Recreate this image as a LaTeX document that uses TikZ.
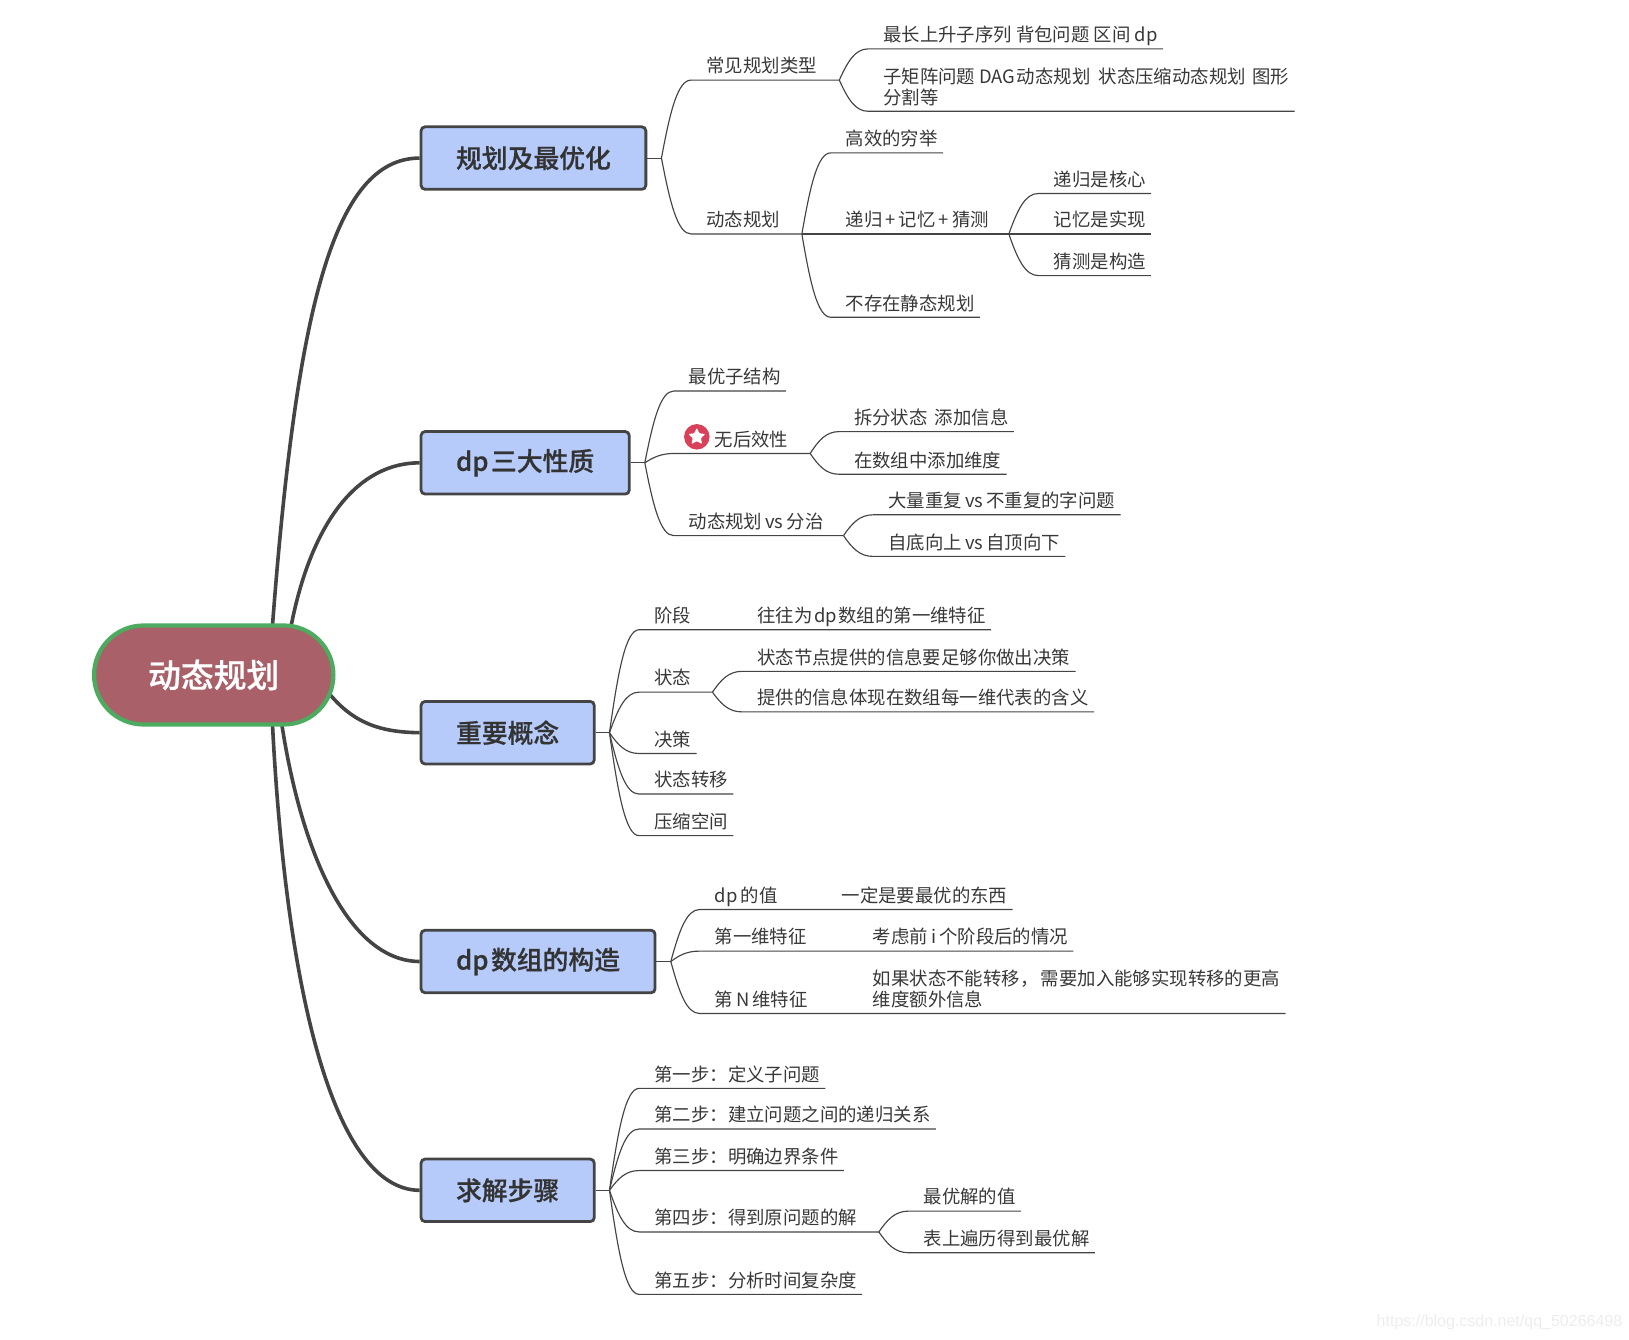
\documentclass[tikz,border=0pt]{standalone}
\usepackage{fontspec}
\setmainfont{Noto Sans CJK SC}[BoldFont={Noto Sans CJK SC Medium},BoldFeatures={FakeBold=0.6}]
\newfontfamily\markfont{Liberation Sans}
\usetikzlibrary{calc,backgrounds,shapes.misc,shapes.geometric}
\definecolor{boxblue}{HTML}{B6CBFA}
\definecolor{rootred}{HTML}{A96068}
\definecolor{rootgreen}{HTML}{4CAB5E}
\definecolor{starred}{HTML}{D9415A}
\definecolor{inkgray}{HTML}{444444}
\begin{document}
\begin{tikzpicture}[x=1.04pt,y=-1.04pt,
  rootnode/.style={rounded rectangle,draw=rootgreen,fill=rootred,line width=4.2pt,minimum width=246pt,minimum height=99pt,text=white,font=\fontsize{32.8}{36}\selectfont\bfseries},
  mainbox/.style={anchor=west,rectangle,rounded corners=4pt,draw=inkgray,fill=boxblue,line width=2.8pt,inner xsep=35pt,minimum height=62.5pt,text=black!80,font=\fontsize{25.8}{30}\selectfont\bfseries},
  topic/.style={anchor=south west,xshift=-1pt,inner xsep=5.2pt,inner ysep=0pt,text height=14pt,text depth=7pt,align=left,text=black!78,font=\fontsize{18.4}{20.8}\selectfont},
  branch/.style={draw=inkgray,line width=1.15pt},
  trunk/.style={draw=inkgray,line width=3.6pt},
  forkto/.style={to path={.. controls ($(\tikztostart)!.22!(\tikztotarget)+.38*(\tikztostart|-\tikztotarget)-.38*(\tikztostart)$) and ($(\tikztotarget)!.59!(\tikztotarget-|\tikztostart)$) .. ($(\tikztotarget)!.25!(\tikztotarget-|\tikztostart)$) -- (\tikztotarget)}}]

\useasboundingbox (0,0) rectangle (1566.3,1287.5);

\node[rootnode] (root) at (205.5,649) {动态规划};
\node[mainbox] (plan) at (403.5,152) {规划及最优化};
\node[mainbox] (props) at (403.5,445) {dp\hspace{2.5pt}三大性质};
\node[mainbox] (ideas) at (403.5,704.5) {重要概念};
\node[mainbox] (table) at (403.5,924.5) {dp\hspace{2.5pt}数组的构造};
\node[mainbox] (steps) at (403.5,1144.5) {求解步骤};

\begin{pgfonlayer}{background}
\draw[trunk] ($(root.north)+(56.5,2)$) .. controls (285,300) and (320,152) .. (plan.west);
\draw[trunk] ($(root.north)+(74.5,2)$) .. controls (300,500) and (345,445) .. (props.west);
\draw[trunk] ($(root.east)+(-6,18)$) .. controls (340,695) and (365,704) .. (ideas.west);
\draw[trunk] ($(root.south)+(65.5,-2)$) .. controls (290,820) and (335,924) .. (table.west);
\draw[trunk] ($(root.south)+(56.5,-2)$) .. controls (275,950) and (320,1144) .. (steps.west);
\end{pgfonlayer}

% first branch
\coordinate (fplan) at (636,152);
\coordinate (fkinds) at (807,77);
\coordinate (fdp) at (771,225);
\coordinate (fguess) at (970,225);
\node[topic] (kinds) at (675,77) {常见规划类型};
\node[topic] (lis) at (845,47) {最长上升子序列 背包问题 区间 dp};
\node[topic] (matrix) at (845,107) {子矩阵问题 DAG\hspace{1.5pt}动态规划\hspace{4pt} 状态压缩动态规划\hspace{2.5pt} 图形\\分割等};
\node[topic] (dp) at (675,225) {动态规划};
\node[topic] (brute) at (809,147) {高效的穷举};
\node[topic] (guess) at (809,225) {递归\,+\,记忆\,+\,猜测};
\node[topic] (core) at (1009,186) {递归是核心};
\node[topic] (memo) at (1009,225) {记忆是实现};
\node[topic] (build) at (1009,265) {猜测是构造};
\node[topic] (static) at (809,305) {不存在静态规划};

\draw[branch] (plan.east) -- (fplan);
\draw[branch] (fplan) to[forkto] (kinds.south west) -- (fkinds);
\draw[branch] (fplan) to[forkto] (dp.south west) -- (fdp);
\draw[branch] (fkinds) to[forkto] (lis.south west) -- (lis.south east);
\draw[branch] (fkinds) to[forkto] (matrix.south west) -- (matrix.south east);
\draw[branch] (fdp) to[forkto] (brute.south west) -- (brute.south east);
\draw[branch] (fdp) -- (fguess);
\draw[branch] (fdp) to[forkto] (static.south west) -- (static.south east);
\draw[branch] (fguess) to[forkto] (core.south west) -- (core.south east);
\draw[branch] (fguess) -- (memo.south east);
\draw[branch] (fguess) to[forkto] (build.south west) -- (build.south east);

% second branch
\coordinate (fprops) at (620,445);
\coordinate (fafter) at (779,436);
\coordinate (fversus) at (811,515);
\coordinate (startafter) at (658,436);
\node[topic] (optimal) at (658,376) {最优子结构};
\node[circle,fill=starred,minimum size=25.5pt,inner sep=0pt] (badge) at (670,420) {};
\node[star,star points=5,star point ratio=2.1,fill=white,minimum size=18pt,inner sep=0pt,rounded corners=1pt] (badgestar) at (badge) {};
\node[topic] (after) at (683,436) {无后效性};
\node[topic] (split) at (817,415) {拆分状态\hspace{3pt} 添加信息};
\node[topic] (dims) at (817,456) {在数组中添加维度};
\node[topic] (versus) at (658,515) {动态规划\,vs\,分治};
\node[topic] (repeat) at (850,495) {大量重复\,vs\,不重复的字问题};
\node[topic] (bottomup) at (850,535) {自底向上\,vs\,自顶向下};

\draw[branch] (props.east) -- (fprops);
\draw[branch] (fprops) to[forkto] (optimal.south west) -- (optimal.south east);
\draw[branch] (fprops) to[forkto] (startafter) -- (fafter);
\draw[branch] (fprops) to[forkto] (versus.south west) -- (fversus);
\draw[branch] (fafter) to[forkto] (split.south west) -- (split.south east);
\draw[branch] (fafter) to[forkto] (dims.south west) -- (dims.south east);
\draw[branch] (fversus) to[forkto] (repeat.south west) -- (repeat.south east);
\draw[branch] (fversus) to[forkto] (bottomup.south west) -- (bottomup.south east);

% third branch
\coordinate (fideas) at (586,704.5);
\coordinate (fstate) at (685,665.5);
\node[topic] (stage) at (625,605.5) {阶段};
\node[topic] (firstdim) at (724,605.5) {往往为\hspace{1.5pt}dp\hspace{1.5pt}数组的第一维特征};
\node[topic] (state) at (625,665.5) {状态};
\node[topic] (enough) at (724,645.5) {状态节点提供的信息要足够你做出决策};
\node[topic] (meaning) at (724,684.5) {提供的信息体现在数组每一维代表的含义};
\node[topic] (choice) at (625,724.5) {决策};
\node[topic] (move) at (625,763.5) {状态转移};
\node[topic] (squeeze) at (625,803.5) {压缩空间};

\draw[branch] (ideas.east) -- (fideas);
\draw[branch] (fideas) to[forkto] (stage.south west) -- (firstdim.south east);
\draw[branch] (fideas) to[forkto] (state.south west) -- (fstate);
\draw[branch] (fideas) to[forkto] (choice.south west) -- (choice.south east);
\draw[branch] (fideas) to[forkto] (move.south west) -- (move.south east);
\draw[branch] (fideas) to[forkto] (squeeze.south west) -- (squeeze.south east);
\draw[branch] (fstate) to[forkto] (enough.south west) -- (enough.south east);
\draw[branch] (fstate) to[forkto] (meaning.south west) -- (meaning.south east);

% fourth branch
\coordinate (ftable) at (645,924.5);
\node[topic] (value) at (683,874.5) {dp\,的值};
\node[topic] (best) at (805,874.5) {一定是要最优的东西};
\node[topic] (dimone) at (683,914.5) {第一维特征};
\node[topic] (before) at (835,914.5) {考虑前\,i\,个阶段后的情况};
\node[topic] (dimn) at (683,974.5) {第\,N\,维特征};
\node[topic] (extra) at (835,974.5) {如果状态不能转移，\hspace{2.5pt}需要加入能够实现转移的更高\\维度额外信息};

\draw[branch] (table.east) -- (ftable);
\draw[branch] (ftable) to[forkto] (value.south west) -- (best.south east);
\draw[branch] (ftable) to[forkto] (dimone.south west) -- (before.south east);
\draw[branch] (ftable) to[forkto] (dimn.south west) -- (extra.south east);

% fifth branch
\coordinate (fsteps) at (586,1144.5);
\coordinate (ffour) at (845,1184.5);
\node[topic] (one) at (625,1046.5) {第一步：定义子问题};
\node[topic] (two) at (625,1085.5) {第二步：建立问题之间的递归关系};
\node[topic] (three) at (625,1125.5) {第三步：明确边界条件};
\node[topic] (four) at (625,1184.5) {第四步：得到原问题的解};
\node[topic] (bestval) at (884,1164.5) {最优解的值};
\node[topic] (walk) at (884,1204.5) {表上遍历得到最优解};
\node[topic] (five) at (625,1244.5) {第五步：分析时间复杂度};

\draw[branch] (steps.east) -- (fsteps);
\draw[branch] (fsteps) to[forkto] (one.south west) -- (one.south east);
\draw[branch] (fsteps) to[forkto] (two.south west) -- (two.south east);
\draw[branch] (fsteps) to[forkto] (three.south west) -- (three.south east);
\draw[branch] (fsteps) to[forkto] (four.south west) -- (ffour);
\draw[branch] (fsteps) to[forkto] (five.south west) -- (five.south east);
\draw[branch] (ffour) to[forkto] (bestval.south west) -- (bestval.south east);
\draw[branch] (ffour) to[forkto] (walk.south west) -- (walk.south east);

\node[anchor=east,inner sep=0pt,text=black!7,font=\markfont\fontsize{16}{18}\selectfont] (stamp) at (1560,1271) {https://blog.csdn.net/qq\_50266498};

\end{tikzpicture}
\end{document}
